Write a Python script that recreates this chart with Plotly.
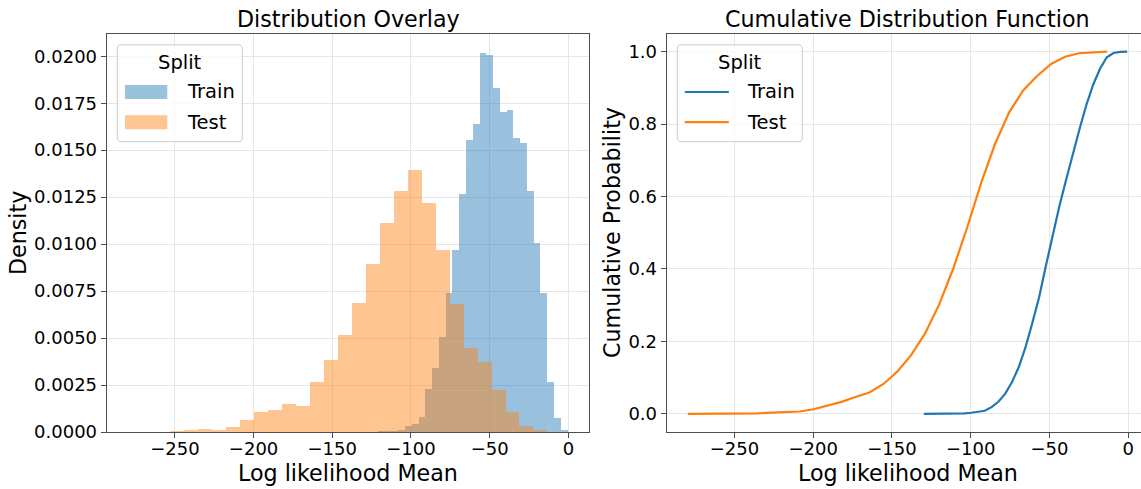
import numpy as np
import plotly.graph_objects as go

W, H = 1141, 489
FONT = "DejaVu Sans"

# Histogram bins (30 equal-width bins per split, spanning each split's min..max)
train_min, train_max = -129.8, -0.7
test_min, test_max = -279.6, -13.5
n_bins = 30

# Density per bin (left to right)
train_density = [
    0.00001, 0.00002, 0.00004, 0.00008, 0.00010, 0.00012, 0.00035, 0.00043,
    0.00085, 0.00234, 0.00341, 0.00508, 0.00740, 0.00969, 0.01271, 0.01555,
    0.01640, 0.02018, 0.02007, 0.01833, 0.01704, 0.01718, 0.01567, 0.01542,
    0.01288, 0.01010, 0.00740, 0.00270, 0.00075, 0.00014,
]
test_density = [
    0.00001, 0.00001, 0.00002, 0.00003, 0.00012, 0.00018, 0.00011, 0.00027,
    0.00069, 0.00108, 0.00122, 0.00154, 0.00140, 0.00267, 0.00387, 0.00520,
    0.00687, 0.00898, 0.01114, 0.01288, 0.01395, 0.01220, 0.00973, 0.00685,
    0.00451, 0.00376, 0.00225, 0.00110, 0.00037, 0.00014,
]

x_tickvals = [-250, -200, -150, -100, -50, 0]
x_ticktext = ["\u2212250", "\u2212200", "\u2212150", "\u2212100", "\u221250", "0"]
dens_tickvals = [0.0, 0.0025, 0.005, 0.0075, 0.01, 0.0125, 0.015, 0.0175, 0.02]
cdf_tickvals = [0.0, 0.2, 0.4, 0.6, 0.8, 1.0]

BLUE = "#1f77b4"
ORANGE = "#ff7f0e"
SPINE = "#4d4d4d"
GRID = "#e6e6e6"


def edges_of(lo, hi):
    return np.linspace(lo, hi, n_bins + 1)


def cdf_of(edges, dens):
    dens = np.asarray(dens)
    width = edges[1] - edges[0]
    cum = np.concatenate([[0.0], np.cumsum(dens * width)])
    return cum / cum[-1]


train_edges = edges_of(train_min, train_max)
test_edges = edges_of(test_min, test_max)


def px(x):
    return x / W


def py(y):
    return 1 - y / H


fig = go.Figure()

# Left panel: overlaid density histograms
for edges, dens, color in [(train_edges, train_density, BLUE),
                           (test_edges, test_density, ORANGE)]:
    fig.add_trace(go.Bar(
        x=(edges[:-1] + edges[1:]) / 2,
        y=dens,
        width=edges[1] - edges[0],
        marker=dict(color=color, line=dict(width=0)),
        opacity=0.45,
        xaxis="x", yaxis="y",
        showlegend=False, hoverinfo="skip",
    ))

# Right panel: cumulative distribution
for edges, dens, color in [(train_edges, train_density, BLUE),
                           (test_edges, test_density, ORANGE)]:
    fig.add_trace(go.Scatter(
        x=edges, y=cdf_of(edges, dens),
        mode="lines", line=dict(color=color, width=2.2),
        xaxis="x2", yaxis="y2", showlegend=False, hoverinfo="skip",
    ))

axis_common = dict(
    showline=True, linecolor=SPINE, linewidth=1.1,
    ticks="outside", ticklen=5, tickwidth=1.1, tickcolor=SPINE,
    showgrid=True, gridcolor=GRID, gridwidth=1,
    zeroline=False, automargin=False,
    tickfont=dict(family=FONT, size=18, color="black"),
)
x_common = dict(axis_common, ticklabelstandoff=-5)

y_domain = [py(432), py(33.5)]

fig.update_layout(
    width=W, height=H,
    margin=dict(l=0, r=0, t=0, b=0),
    paper_bgcolor="white", plot_bgcolor="white",
    barmode="overlay", bargap=0,
    showlegend=False,
    xaxis=dict(x_common, domain=[px(106.7), px(589.3)], range=[-293.3, 13.3],
               tickvals=x_tickvals, ticktext=x_ticktext, mirror=True, anchor="y"),
    yaxis=dict(axis_common, domain=y_domain, range=[0, 0.02121],
               tickvals=dens_tickvals, tickformat=".4f", mirror=True, anchor="x"),
    xaxis2=dict(x_common, domain=[px(666.7), 1.0], range=[-293.0, 8.1],
                tickvals=x_tickvals, ticktext=x_ticktext, mirror=True, anchor="y2"),
    yaxis2=dict(axis_common, domain=y_domain, range=[-0.05, 1.05],
                tickvals=cdf_tickvals, tickformat=".1f", mirror=False, anchor="x2"),
)

annotations = []
shapes = []


def text(x, y, s, size, xanchor="center", angle=0):
    annotations.append(dict(
        x=px(x), y=py(y), xref="paper", yref="paper", text=s, showarrow=False,
        xanchor=xanchor, yanchor="middle", textangle=angle,
        font=dict(family=FONT, size=size, color="black"),
    ))


# Titles and axis labels
text(348.0, 19.0, "Distribution Overlay", 22.2)
text(907.9, 19.0, "Cumulative Distribution Function", 22.2)
text(348.0, 472.5, "Log likelihood Mean", 22.2)
text(907.9, 472.5, "Log likelihood Mean", 22.2)
text(18.0, 233.0, "Density", 22.2, angle=-90)
text(612.0, 233.0, "Cumulative Probability", 22.2, angle=-90)


def rounded_box(x0, y0, x1, y1, r=4):
    X = lambda v: f"{px(v):.6f}"
    Y = lambda v: f"{py(v):.6f}"
    return (f"M {X(x0 + r)},{Y(y0)} L {X(x1 - r)},{Y(y0)} Q {X(x1)},{Y(y0)} {X(x1)},{Y(y0 + r)} "
            f"L {X(x1)},{Y(y1 - r)} Q {X(x1)},{Y(y1)} {X(x1 - r)},{Y(y1)} "
            f"L {X(x0 + r)},{Y(y1)} Q {X(x0)},{Y(y1)} {X(x0)},{Y(y1 - r)} "
            f"L {X(x0)},{Y(y0 + r)} Q {X(x0)},{Y(y0)} {X(x0 + r)},{Y(y0)} Z")


def legend(x0, kind):
    shapes.append(dict(type="path", path=rounded_box(x0, 44.8, x0 + 125, 141.7),
                       xref="paper", yref="paper",
                       fillcolor="rgba(255,255,255,0.8)",
                       line=dict(color="#cccccc", width=1)))
    text(x0 + 62.5, 62.5, "Split", 19.5)
    for label, color, yc in [("Train", BLUE, 92.0), ("Test", ORANGE, 122.2)]:
        if kind == "patch":
            shapes.append(dict(type="rect", xref="paper", yref="paper",
                               x0=px(x0 + 7.7), x1=px(x0 + 50), y0=py(yc + 7), y1=py(yc - 7),
                               fillcolor=color, opacity=0.45, line=dict(width=0)))
        else:
            shapes.append(dict(type="line", xref="paper", yref="paper",
                               x0=px(x0 + 7.5), x1=px(x0 + 51.5), y0=py(yc), y1=py(yc),
                               line=dict(color=color, width=2.2)))
        text(x0 + 67.7, yc, label, 19.5, xanchor="left")


legend(117.3, "patch")
legend(677.3, "line")

fig.update_layout(annotations=annotations, shapes=shapes)
fig.write_html("out.html")
